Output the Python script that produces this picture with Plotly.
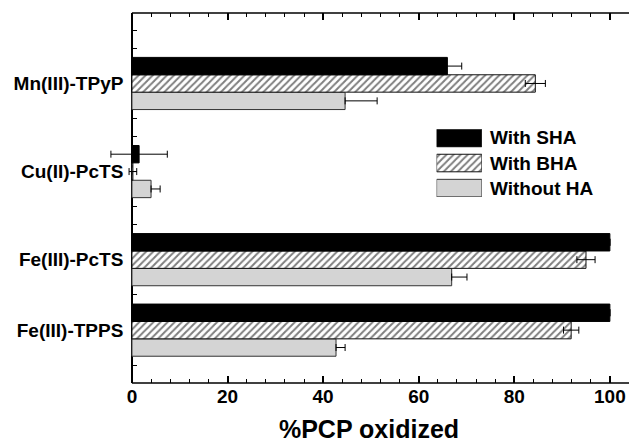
import plotly.graph_objects as go

# ---- data ----
categories = ["Mn(III)-TPyP", "Cu(II)-PcTS", "Fe(III)-PcTS", "Fe(III)-TPPS"]
positions = [17, 12, 7, 3]

sha = [66.0, 1.5, 100.0, 100.0]
sha_err = [3.0, 5.9, 0.0, 0.0]
bha = [84.4, 0.2, 95.0, 91.9]
bha_err = [2.1, 0.8, 1.9, 1.6]
noha = [44.6, 4.0, 66.9, 42.7]
noha_err = [6.7, 1.9, 3.2, 1.9]

series_names = ["With SHA", "With BHA", "Without HA"]
x_ticks = [0, 20, 40, 60, 80, 100]
x_minor = list(range(4, 104, 4))

FONT = "Liberation Sans, Arial, sans-serif"
GRAY = "#d4d4d4"
XMIN, XMAX = -4.8, 104   # plot area runs slightly left of x=0 so error bars can cross the axis
BARGAP = 0.26

black_marker = dict(color="black", line=dict(color="black", width=1))
hatch_marker = dict(color="white", line=dict(color="#111", width=1),
                    pattern=dict(shape="/", fgcolor="black", bgcolor="white", size=5, solidity=0.4))
gray_marker = dict(color=GRAY, line=dict(color="#333", width=1))

err_style = dict(color="black", thickness=1, width=3.5)

fig = go.Figure()
# bottom-to-top order inside each group: gray, hatched, black
fig.add_trace(go.Bar(x=noha, y=positions, orientation="h", name=series_names[2],
                     marker=gray_marker,
                     error_x=dict(type="data", array=noha_err, symmetric=False,
                                  arrayminus=[0] * len(noha_err), **err_style),
                     showlegend=False))
fig.add_trace(go.Bar(x=bha, y=positions, orientation="h", name=series_names[1],
                     marker=hatch_marker,
                     error_x=dict(type="data", array=bha_err, **err_style),
                     showlegend=False))
fig.add_trace(go.Bar(x=sha, y=positions, orientation="h", name=series_names[0],
                     marker=black_marker,
                     error_x=dict(type="data", array=sha_err, **err_style),
                     showlegend=False))

# ---- legend swatches on a small hidden subplot ----
legend_markers = [gray_marker, hatch_marker, black_marker]
legend_labels = [series_names[2], series_names[1], series_names[0]]
for i, m in enumerate(legend_markers):
    fig.add_trace(go.Bar(x=[1], y=[i], orientation="h", marker=m, width=0.7, offset=-0.35,
                         xaxis="x2", yaxis="y2", showlegend=False, hoverinfo="skip"))
    fig.add_annotation(x=1, y=i, xref="x2", yref="y2", text=legend_labels[i],
                       showarrow=False, xanchor="left", yanchor="middle", xshift=6,
                       font=dict(family=FONT, size=19, color="black", weight="bold"))

# top and bottom spines starting at x = 0
for yv in (0, 1):
    fig.add_shape(type="line", xref="x", yref="paper", x0=0, x1=XMAX, y0=yv, y1=yv,
                  line=dict(color="black", width=1.5))

yaxis_pos = (0 - XMIN) / (XMAX - XMIN)

fig.update_layout(
    width=629, height=443,
    margin=dict(l=109, r=0, t=13, b=60),
    paper_bgcolor="white", plot_bgcolor="rgba(0,0,0,0)",
    barmode="group", bargap=BARGAP, bargroupgap=0,
    showlegend=False,
    font=dict(family=FONT, color="black"),
    xaxis=dict(
        range=[XMIN, XMAX], tickvals=x_ticks,
        ticks="inside", ticklen=7, tickwidth=1.5, tickcolor="black",
        showline=False, mirror="allticks",
        showgrid=False, zeroline=False,
        minor=dict(tickvals=x_minor, ticks="inside", ticklen=4, tickcolor="black",
                   tickwidth=1, showgrid=False),
        tickfont=dict(family=FONT, size=19, weight="bold"),
        title=dict(text="%PCP oxidized", font=dict(family=FONT, size=25, weight="bold"), standoff=15),
        layer="below traces",
    ),
    yaxis=dict(
        range=[0, 21], tickvals=positions, ticktext=categories,
        anchor="free", position=yaxis_pos,
        ticks="inside", ticklen=4, tickwidth=1, tickcolor="black",
        showline=True, linecolor="black", linewidth=1.5, mirror=False,
        showgrid=False, zeroline=False,
        minor=dict(dtick=1, ticks="inside", ticklen=4, tickcolor="black", tickwidth=1, showgrid=False),
        tickfont=dict(family=FONT, size=19, weight="bold"),
        ticklabelstandoff=4,
        layer="below traces",
    ),
    xaxis2=dict(domain=[0.630, 0.717], anchor="y2", range=[0, 1], visible=False, fixedrange=True),
    yaxis2=dict(domain=[0.503, 0.686], anchor="x2", range=[-0.35, 2.35], visible=False, fixedrange=True),
)

fig.write_html("out.html")
